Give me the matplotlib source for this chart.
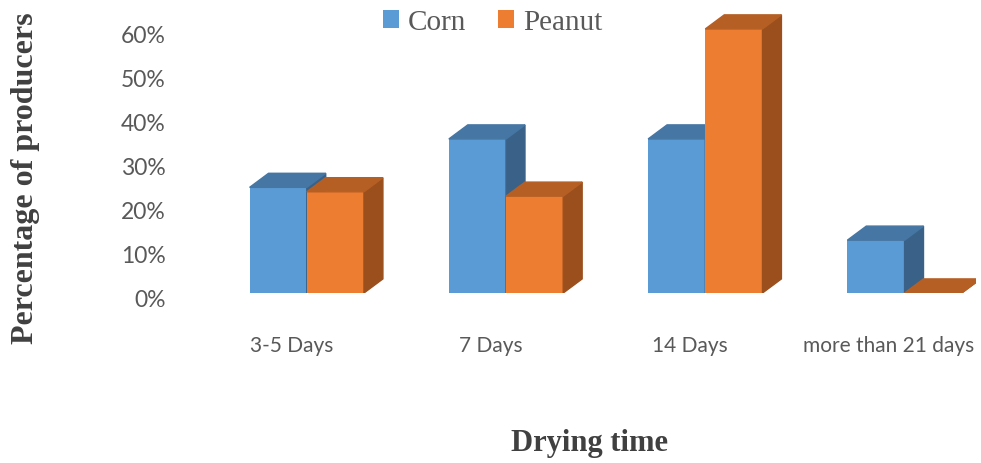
import numpy as np
import matplotlib.pyplot as plt
from matplotlib.patches import Polygon
from matplotlib.transforms import ScaledTranslation

# data
categories = ["3-5 Days", "7 Days", "14 Days", "more than 21 days"]
corn = [24, 35, 35, 12]
peanut = [23, 22, 60, 0]
yticks = [0, 10, 20, 30, 40, 50, 60]

# colours: front, top, side
blue = ("#5B9BD5", "#4676A3", "#3A6289")
orange = ("#ED7D31", "#B65F24", "#9A4F1D")

width = 0.287
shift = 0.078  # bars sit a bit right of the category label
dx, dy = 0.095, 3.2  # fake 3d depth in data units

fig = plt.figure(figsize=(9.81, 4.64), dpi=100)
ax = fig.add_axes([0.2, 0.3664, 0.795, 0.607])
x = np.arange(len(categories))


def bar3d(x0, h, cols, label):
    ax.bar(x0, h, width, align="edge", color=cols[0], label=label, zorder=2)
    for xi, hi in zip(x0, h):
        top = [(xi, hi), (xi + width, hi), (xi + width + dx, hi + dy), (xi + dx, hi + dy)]
        side = [(xi + width, 0), (xi + width + dx, dy), (xi + width + dx, hi + dy), (xi + width, hi)]
        ax.add_patch(Polygon(side, closed=True, color=cols[2], zorder=2))
        ax.add_patch(Polygon(top, closed=True, color=cols[1], zorder=2))


bar3d(x + shift - width, corn, blue, "Corn")
bar3d(x + shift, peanut, orange, "Peanut")

ax.set_xlim(-0.477, 3.437)
ax.set_ylim(0, 64)
ax.set_yticks(yticks)
ax.set_yticklabels([f"{t}%" for t in yticks])
ax.set_xticks(x)
ax.set_xticklabels(categories)
ax.tick_params(length=0, colors="#595959")
ax.tick_params(axis="y", pad=22)
ax.tick_params(axis="x", pad=30)
for lab in ax.get_xticklabels():
    lab.set_fontfamily("Lato")
    lab.set_fontsize(15)
down = ScaledTranslation(0, -5 / 100, fig.dpi_scale_trans)
for lab in ax.get_yticklabels():
    lab.set_fontfamily("Lato")
    lab.set_fontsize(16.5)
    lab.set_transform(lab.get_transform() + down)
for s in ax.spines.values():
    s.set_visible(False)

fig.text(0.026, 0.617, "Percentage of producers", rotation=90, ha="center", va="center",
         fontfamily="Liberation Serif", fontweight="bold", fontsize=23, color="#404040")
fig.text(0.601, 0.045, "Drying time", ha="center", va="center",
         fontfamily="Liberation Serif", fontweight="bold", fontsize=22, color="#404040")

fig.legend(loc="center", bbox_to_anchor=(0.502, 0.95), ncol=2, frameon=False,
           prop={"family": "Liberation Serif", "size": 21}, labelcolor="#595959",
           handlelength=0.55, handleheight=0.55, handletextpad=0.3, columnspacing=1.1)

fig.savefig("out.png", dpi=100)
